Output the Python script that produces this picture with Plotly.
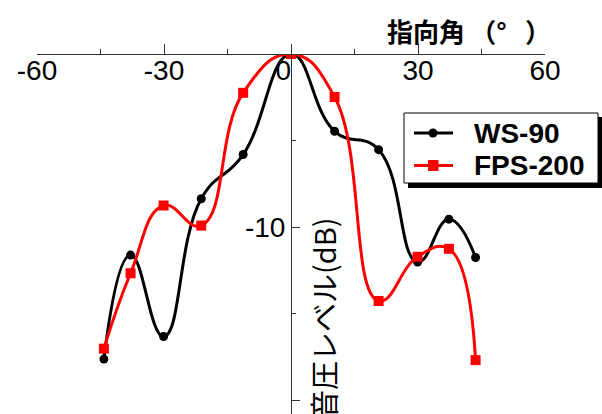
import plotly.graph_objects as go

angles = [-44.2, -37.9, -30.1, -21.2, -11.3, 0, 10.3, 20.7, 29.9, 37.3, 43.6]
ws90 = [-17.6, -11.6, -16.3, -8.35, -5.8, 0, -4.46, -5.52, -12.0, -9.53, -11.74]
fps200 = [-17.0, -12.65, -8.74, -9.9, -2.24, 0, -2.48, -14.25, -11.7, -11.24, -17.66]
series_names = ["WS-90", "FPS-200"]
series_colors = ["#000000", "#ff0000"]

x_ticks = [-60, -30, 0, 30, 60]
x_ticktext = ["-60", "-30", "0\u00a0\u00a0", "30", "60"]
y_ticks = [-10, -20]
y_ticktext = ["-10", "-20"]

W, H = 602, 414
L, R, T, B = 37, 57, 54, 0
pw, ph = W - L - R, H - T - B

def px2x(px):
    return (px - L) / pw

def py2y(py):
    return (H - B - py) / ph

fig = go.Figure()
fig.add_trace(go.Scatter(
    x=angles, y=ws90, name=series_names[0], mode="lines+markers", showlegend=False,
    line=dict(color=series_colors[0], width=3, shape="spline", smoothing=1.3),
    marker=dict(symbol="circle", size=9, color=series_colors[0]),
))
fig.add_trace(go.Scatter(
    x=angles, y=fps200, name=series_names[1], mode="lines+markers", showlegend=False,
    line=dict(color=series_colors[1], width=3, shape="spline", smoothing=1.3),
    marker=dict(symbol="square", size=10, color=series_colors[1]),
))

axis_font = dict(family="Liberation Sans, Arial, sans-serif", size=28, color="black")

# legend drawn as a framed box with shadow
shapes = [
    dict(type="rect", xref="paper", yref="paper",
         x0=px2x(408), x1=px2x(606), y0=py2y(188), y1=py2y(117),
         fillcolor="black", line=dict(width=0), layer="above"),
    dict(type="rect", xref="paper", yref="paper",
         x0=px2x(404), x1=px2x(598), y0=py2y(183), y1=py2y(113),
         fillcolor="white", line=dict(color="black", width=1), layer="above"),
]
annotations = []
legend_rows = [133, 165.5]
for i, (nm, col) in enumerate(zip(series_names, series_colors)):
    yc = legend_rows[i]
    shapes.append(dict(type="line", xref="paper", yref="paper",
                       x0=px2x(414), x1=px2x(453), y0=py2y(yc), y1=py2y(yc),
                       line=dict(color=col, width=3), layer="above"))
    if i == 0:
        shapes.append(dict(type="circle", xref="paper", yref="paper",
                           x0=px2x(428.5), x1=px2x(437.5), y0=py2y(yc + 4.5), y1=py2y(yc - 4.5),
                           fillcolor=col, line=dict(width=0), layer="above"))
    else:
        shapes.append(dict(type="rect", xref="paper", yref="paper",
                           x0=px2x(428), x1=px2x(438.5), y0=py2y(yc + 5.5), y1=py2y(yc - 5.5),
                           fillcolor=col, line=dict(width=0), layer="above"))
    annotations.append(dict(text=nm, xref="paper", yref="paper", x=px2x(472), y=py2y(yc),
                            xanchor="left", yanchor="middle", showarrow=False,
                            font=dict(family="Liberation Sans, Arial, sans-serif", size=28,
                                      color="black", weight="bold")))

annotations += [
    dict(text="指向角\u2009（°\u2002\u2009）", xref="paper", yref="paper", x=px2x(385), y=py2y(30),
         xanchor="left", yanchor="middle", showarrow=False,
         font=dict(family="Noto Sans CJK JP", size=26, color="black", weight="bold")),
    dict(text="音圧レベル(dB)", xref="paper", yref="paper", x=px2x(323), y=py2y(318),
         xanchor="center", yanchor="middle", textangle=-90, showarrow=False,
         font=dict(family="Noto Sans CJK JP", size=29, color="black")),
]

fig.update_layout(
    width=W, height=H,
    margin=dict(l=L, r=R, t=T, b=B, pad=0, autoexpand=False),
    paper_bgcolor="white", plot_bgcolor="white",
    showlegend=False,
    xaxis=dict(
        range=[-60, 60], side="bottom", anchor="free", position=1, showgrid=False, zeroline=False,
        automargin=False,
        showline=True, linecolor="#333", linewidth=1,
        tickmode="array", tickvals=x_ticks, ticktext=x_ticktext,
        ticks="inside", ticklen=10, tickcolor="#333", tickwidth=1,
        ticklabelstandoff=-9,
        tickfont=axis_font,
        minor=dict(tickmode="array", tickvals=[-45, -15, 15, 45], ticks="inside", ticklen=5, tickcolor="#333"),
    ),
    yaxis=dict(
        range=[-20.77, 0], anchor="free", position=0.5, side="left",
        automargin=False,
        showgrid=False, zeroline=False, showline=True, linecolor="#333", linewidth=1,
        tickmode="array", tickvals=y_ticks, ticktext=y_ticktext,
        ticks="inside", ticklen=8, tickcolor="#333", tickwidth=1,
        tickfont=axis_font,
        minor=dict(tickmode="array", tickvals=[-5, -15], ticks="inside", ticklen=4, tickcolor="#333"),
    ),
    shapes=shapes,
    annotations=annotations,
)

fig.write_html("out.html", config={"displayModeBar": False},
               post_script="document.body.style.margin='0';")
